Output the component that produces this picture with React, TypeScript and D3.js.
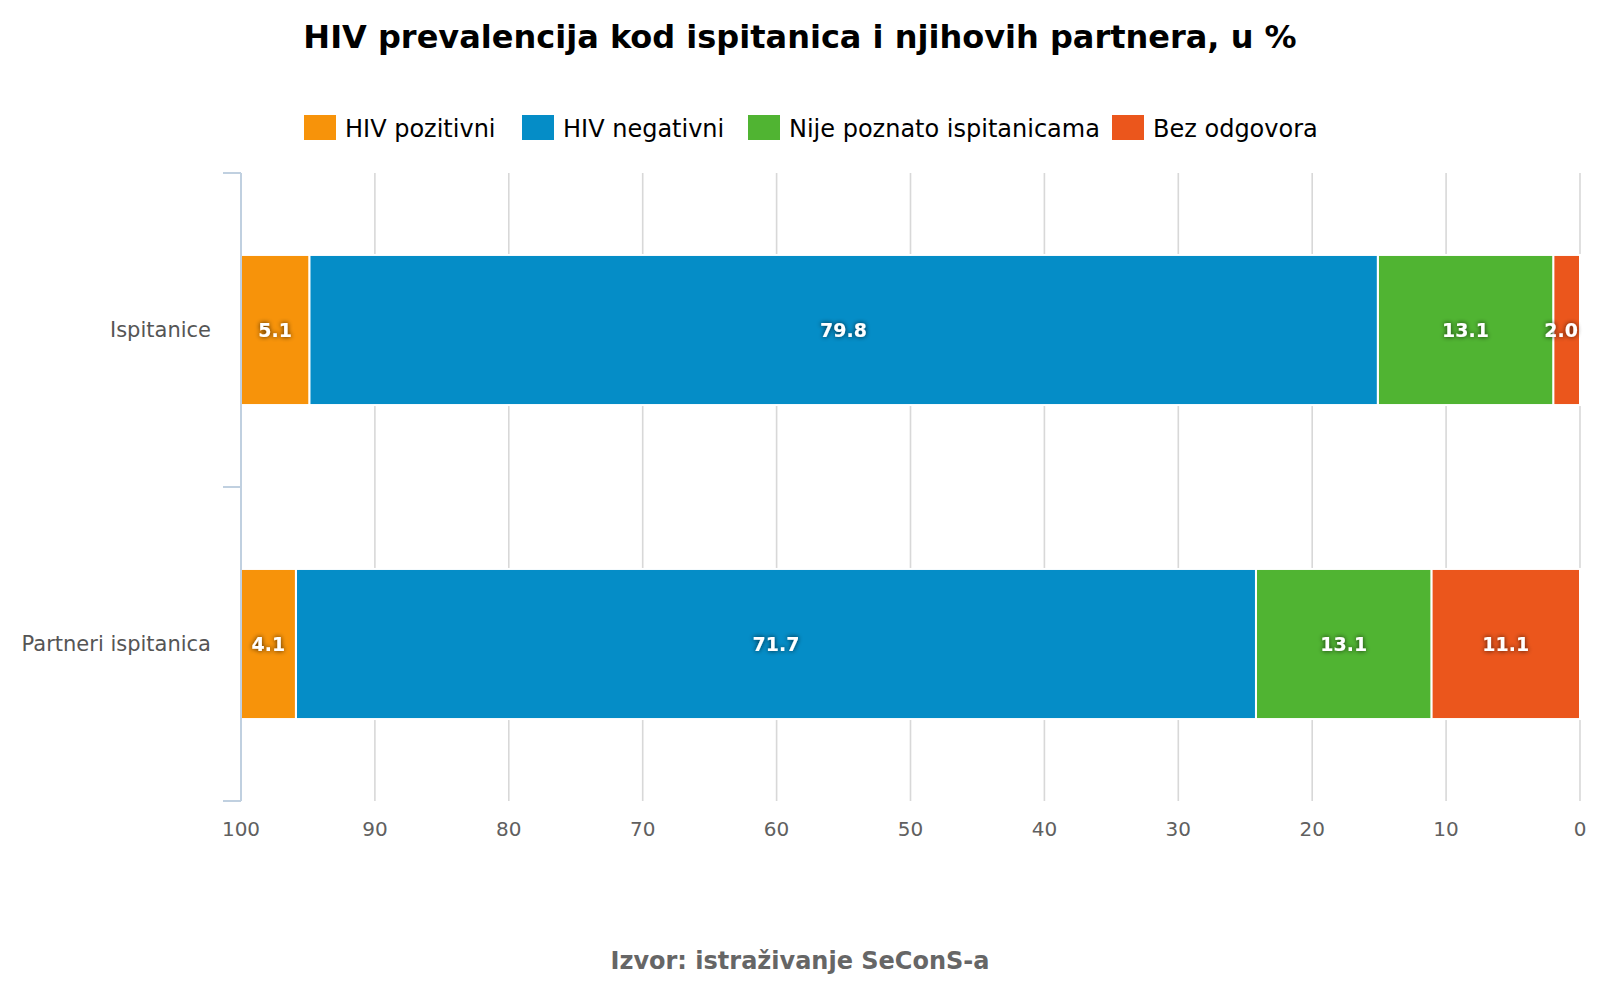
import * as React from 'react';
import * as d3 from 'd3';

const categories = ['Ispitanice', 'Partneri ispitanica'];
const seriesNames = ['HIV pozitivni', 'HIV negativni', 'Nije poznato ispitanicama', 'Bez odgovora'];
const seriesColors = ['#F7930A', '#058DC7', '#50B432', '#EB561C'];
const hivPozitivni = [5.1, 4.1];
const hivNegativni = [79.8, 71.7];
const nijePoznato = [13.1, 13.1];
const bezOdgovora = [2.0, 11.1];
const xTicks = [100, 90, 80, 70, 60, 50, 40, 30, 20, 10, 0];

const WIDTH = 1600;
const HEIGHT = 1000;
const margin = { top: 173, right: 20, bottom: 199, left: 241 };
const FONT = '"DejaVu Sans", Verdana, sans-serif';
const legendX = [304, 522, 748, 1112];

export default function App() {
  const ref = React.useRef<SVGSVGElement>(null);

  React.useEffect(() => {
    document.body.style.margin = '0';
    const svg = d3.select(ref.current);
    svg.selectAll('*').remove();

    const x0 = margin.left;
    const x1 = WIDTH - margin.right;
    const y0 = margin.top;
    const y1 = HEIGHT - margin.bottom;

    const x = d3.scaleLinear().domain([100, 0]).range([x0, x1]);
    const band = d3.scaleBand().domain(categories).range([y0, y1]);
    const barH = band.bandwidth() * 0.478;
    const barY = (c: string) => (band(c) as number) + (band.bandwidth() - barH) / 2;

    // text glow for data labels
    const defs = svg.append('defs');
    const filter = defs.append('filter').attr('id', 'glow').attr('x', '-30%').attr('y', '-50%').attr('width', '160%').attr('height', '200%');
    filter.append('feGaussianBlur').attr('in', 'SourceAlpha').attr('stdDeviation', 2.5).attr('result', 'blur');
    filter.append('feComponentTransfer').attr('in', 'blur').attr('result', 'shadow')
      .append('feFuncA').attr('type', 'linear').attr('slope', 0.75);
    const merge = filter.append('feMerge');
    merge.append('feMergeNode').attr('in', 'shadow');
    merge.append('feMergeNode').attr('in', 'SourceGraphic');

    // title
    svg.append('text')
      .attr('x', WIDTH / 2).attr('y', 48)
      .attr('text-anchor', 'middle')
      .style('font-family', FONT).style('font-weight', 'bold').style('font-size', '32px')
      .attr('fill', '#000')
      .text('HIV prevalencija kod ispitanica i njihovih partnera, u %');

    // legend
    const legend = svg.append('g');
    seriesNames.forEach((name, i) => {
      const lx = legendX[i];
      legend.append('rect').attr('x', lx).attr('y', 115).attr('width', 32).attr('height', 25).attr('fill', seriesColors[i]);
      legend.append('text')
        .attr('x', lx + 41).attr('y', 137)
        .style('font-family', FONT).style('font-size', '24px')
        .attr('fill', '#000')
        .text(name);
    });

    // grid lines
    svg.append('g').selectAll('line').data(xTicks).enter().append('line')
      .attr('x1', (d) => x(d)).attr('x2', (d) => x(d))
      .attr('y1', y0).attr('y2', y1)
      .attr('stroke', '#D8D8D8').attr('stroke-width', 1.6);

    // x tick labels
    svg.append('g').selectAll('text').data(xTicks).enter().append('text')
      .attr('x', (d) => x(d)).attr('y', 836)
      .attr('text-anchor', 'middle')
      .style('font-family', FONT).style('font-size', '20px')
      .attr('fill', '#606060')
      .text((d) => String(d));

    // stacked bars
    const rows = categories.map((c, i) => ({
      category: c,
      [seriesNames[0]]: hivPozitivni[i],
      [seriesNames[1]]: hivNegativni[i],
      [seriesNames[2]]: nijePoznato[i],
      [seriesNames[3]]: bezOdgovora[i],
    }));
    const stack = d3.stack<any>().keys([...seriesNames].reverse());
    const layers = stack(rows);

    layers.forEach((layer) => {
      const color = seriesColors[seriesNames.indexOf(layer.key)];
      svg.append('g').selectAll('rect').data(layer).enter().append('rect')
        .attr('x', (d) => x(d[1]))
        .attr('y', (d) => barY(d.data.category))
        .attr('width', (d) => x(d[0]) - x(d[1]))
        .attr('height', barH)
        .attr('fill', color)
        .attr('stroke', '#fff').attr('stroke-width', 2);
    });

    layers.forEach((layer) => {
      svg.append('g').selectAll('text').data(layer).enter().append('text')
        .attr('x', (d) => x((d[0] + d[1]) / 2))
        .attr('y', (d) => barY(d.data.category) + barH / 2 + 7)
        .attr('text-anchor', 'middle')
        .style('font-family', FONT).style('font-weight', 'bold').style('font-size', '19px')
        .attr('fill', '#fff')
        .attr('filter', 'url(#glow)')
        .text((d) => (d[1] - d[0]).toFixed(1))
        .each(function (d) {
          // keep the label inside the plot area
          const node = this as SVGTextElement;
          const half = node.getComputedTextLength() / 2;
          const cx = x((d[0] + d[1]) / 2);
          d3.select(node).attr('x', Math.min(cx, x1 - half - 2));
        });
    });

    // y axis
    const yAxis = svg.append('g');
    yAxis.append('line').attr('x1', x0).attr('x2', x0).attr('y1', y0).attr('y2', y1)
      .attr('stroke', '#C0D0E0').attr('stroke-width', 2);
    const bounds = [y0, ...categories.map((c) => (band(c) as number) + band.bandwidth())];
    yAxis.selectAll('line.tick').data(bounds).enter().append('line')
      .attr('class', 'tick')
      .attr('x1', x0 - 18).attr('x2', x0)
      .attr('y1', (d) => d).attr('y2', (d) => d)
      .attr('stroke', '#C0D0E0').attr('stroke-width', 2);
    yAxis.selectAll('text').data(categories).enter().append('text')
      .attr('x', 211)
      .attr('y', (c) => (band(c) as number) + band.bandwidth() / 2 + 7)
      .attr('text-anchor', 'end')
      .style('font-family', FONT).style('font-size', '21px')
      .attr('fill', '#555')
      .text((c) => c);

    // source
    svg.append('text')
      .attr('x', WIDTH / 2).attr('y', 969)
      .attr('text-anchor', 'middle')
      .style('font-family', FONT).style('font-weight', 'bold').style('font-size', '24px')
      .attr('fill', '#666')
      .text('Izvor: istraživanje SeConS-a');
  }, []);

  return <svg ref={ref} width={WIDTH} height={HEIGHT} style={{ display: 'block' }} />;
}
